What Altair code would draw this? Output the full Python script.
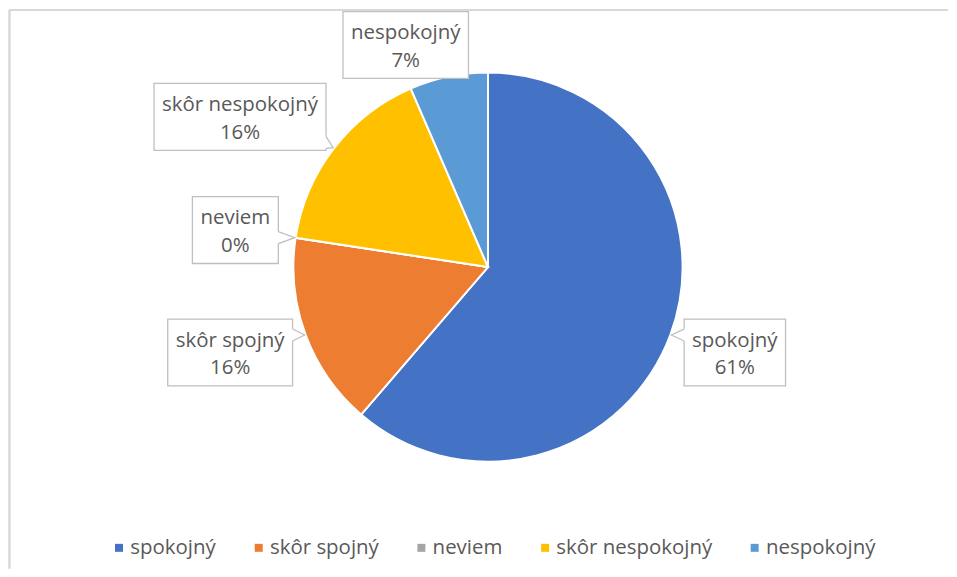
import math
import altair as alt
import pandas as pd

# ---------------- data ----------------
categories = ["spokojný", "skôr spojný", "neviem", "skôr nespokojný", "nespokojný"]
share = [61.3, 16.1, 0.0, 16.1, 6.5]
colors = ["#4472C4", "#ED7D31", "#A5A5A5", "#FFC000", "#5B9BD5"]

# ---------------- layout / style ----------------
W, H = 941, 561          # plot area (page minus 8px margins)
CX, CY = 480, 259        # pie centre inside the plot, pixels from top-left
R = 195                  # pie radius
GAP = 18                 # gap between pie and label box anchor
CLEAR_FREE = R + 5       # boxes are pushed sideways until this clear of the centre
CLEAR_CLAMPED = R - 5    # ... looser for boxes squeezed against the top edge
PAD_X = 8                # horizontal text padding inside box
BOX_H = 67
TAIL_BASE = 12
FONT = "Open Sans"
FS = 20.5
TXT = "#595959"
BORDER = "#BFBFBF"
TOP_LIMIT = CY - 3       # keep boxes inside chart area

# approximate advance widths (em) for the label font
GLYPH = {" ": .26, "n": .614, "e": .561, "s": .477, "p": .613, "o": .604,
         "ô": .604, "k": .525, "j": .24, "y": .501, "ý": .501, "r": .408,
         "v": .501, "i": .253, "m": .93, "%": .855}


def text_w(s):
    return sum(GLYPH.get(c, .572) for c in s) * FS


def nearest_dist(L, Rr, B, T):
    nx = min(max(0, L), Rr)
    ny = min(max(0, B), T)
    return math.hypot(nx, ny)


# coordinate frame: pie centre = (0, 0), 1 unit = 1 px, y up
xs = alt.Scale(domain=[-CX, W - CX], zero=False, nice=False)
ys = alt.Scale(domain=[-(H - CY), CY], zero=False, nice=False)

total = sum(share)
boxes, tails_v, tails_h, lines = [], [], [], []
cum = 0.0
for i, (cat, v) in enumerate(zip(categories, share)):
    mid = 2 * math.pi * (cum + v / 2) / total
    cum += v
    dx, dy = math.sin(mid), math.cos(mid)
    pct = f"{math.floor(100 * v / total + 0.5)}%"
    label = f"{cat}\n{pct}"
    hw = (max(text_w(cat), text_w(pct)) + 2 * PAD_X) / 2
    hh = BOX_H / 2
    cx = (R + GAP) * dx + hw * dx
    cy = (R + GAP) * dy + hh * dy
    clear = CLEAR_FREE
    if cy + hh > TOP_LIMIT:
        cy = TOP_LIMIT - hh
        clear = CLEAR_CLAMPED
    step = 1 if dx >= 0 else -1
    while nearest_dist(cx - hw, cx + hw, cy - hh, cy + hh) < clear:
        cx += step * 0.5
    L, Rr, B, T = cx - hw, cx + hw, cy - hh, cy + hh
    boxes.append({"id": i, "x": L, "x2": Rr, "y": B, "y2": T,
                  "cx": cx, "cy": cy, "label": label})

    tx, ty = (R + 1) * dx, (R + 1) * dy
    half = TAIL_BASE / 2
    if tx > Rr + 3 or tx < L - 3:
        s = 1 if tx > Rr else -1
        ex = Rr if s > 0 else L
        prot = abs(tx - ex)
        yc = min(max(ty, B + half + 2), T - half - 2)
        b1, b2 = yc - half, yc + half
        k = (prot + 2) / prot
        tails_v.append({"id": i, "x": ex - s * 2, "y": ty + (b1 - ty) * k, "y2": ty + (b2 - ty) * k})
        tails_v.append({"id": i, "x": tx, "y": ty, "y2": ty})
        lines += [{"id": i, "o": 0, "x": ex, "y": b1},
                  {"id": i, "o": 1, "x": tx, "y": ty},
                  {"id": i, "o": 2, "x": ex, "y": b2}]
    elif ty < B - 3 or ty > T + 3:
        s = 1 if ty > T else -1
        ey = T if s > 0 else B
        prot = abs(ty - ey)
        xc = min(max(tx, L + half + 2), Rr - half - 2)
        a1, a2 = xc - half, xc + half
        k = (prot + 2) / prot
        tails_h.append({"id": i, "y": ey - s * 2, "x": tx + (a1 - tx) * k, "x2": tx + (a2 - tx) * k})
        tails_h.append({"id": i, "y": ty, "x": tx, "x2": tx})
        lines += [{"id": i, "o": 0, "x": a1, "y": ey},
                  {"id": i, "o": 1, "x": tx, "y": ty},
                  {"id": i, "o": 2, "x": a2, "y": ey}]

pie_df = pd.DataFrame({"category": categories, "value": share,
                       "idx": list(range(len(categories))), "px": 0, "py": 0})
box_df = pd.DataFrame(boxes)

pie = alt.Chart(pie_df).mark_arc(outerRadius=R, stroke="white", strokeWidth=2).encode(
    x=alt.X("px:Q", scale=xs, axis=None),
    y=alt.Y("py:Q", scale=ys, axis=None),
    theta=alt.Theta("value:Q", stack=True),
    order=alt.Order("idx:Q", sort="ascending"),
    color=alt.Color("category:N",
                    scale=alt.Scale(domain=categories, range=colors),
                    legend=alt.Legend(orient="none", legendX=100, legendY=530,
                                      direction="horizontal", title=None,
                                      symbolType="square", symbolSize=64,
                                      symbolStrokeWidth=0, labelFont=FONT,
                                      labelFontSize=FS, labelColor=TXT,
                                      labelOffset=1, columnPadding=32,
                                      padding=0)),
)

rects = alt.Chart(box_df).mark_rect(fill="white", stroke=BORDER, strokeWidth=1.3).encode(
    x=alt.X("x:Q", scale=xs, axis=None), x2="x2:Q",
    y=alt.Y("y:Q", scale=ys, axis=None), y2="y2:Q",
)

layers = [pie, rects]

if tails_v:
    layers.append(alt.Chart(pd.DataFrame(tails_v)).mark_area(fill="white", orient="vertical").encode(
        x=alt.X("x:Q", scale=xs, axis=None),
        y=alt.Y("y:Q", scale=ys, axis=None, stack=None), y2="y2:Q",
        detail="id:N"))
if tails_h:
    layers.append(alt.Chart(pd.DataFrame(tails_h)).mark_area(fill="white", orient="horizontal").encode(
        y=alt.Y("y:Q", scale=ys, axis=None),
        x=alt.X("x:Q", scale=xs, axis=None, stack=None), x2="x2:Q",
        detail="id:N"))
if lines:
    layers.append(alt.Chart(pd.DataFrame(lines)).mark_line(color=BORDER, strokeWidth=1.3).encode(
        x=alt.X("x:Q", scale=xs, axis=None),
        y=alt.Y("y:Q", scale=ys, axis=None),
        detail="id:N", order="o:Q"))

texts = alt.Chart(box_df).mark_text(font=FONT, fontSize=FS, color=TXT, lineBreak="\n",
                                    lineHeight=28, align="center", baseline="middle", dy=-12).encode(
    x=alt.X("cx:Q", scale=xs, axis=None),
    y=alt.Y("cy:Q", scale=ys, axis=None),
    text="label:N",
)
layers.append(texts)

frame_left = alt.Chart(pie_df).mark_rule(color="#D9D9D9", strokeWidth=1.5).encode(
    x=alt.value(0.5), y=alt.value(1.5), y2=alt.value(H))
frame_top = alt.Chart(pie_df).mark_rule(color="#D9D9D9", strokeWidth=1.5).encode(
    x=alt.value(0.5), x2=alt.value(W), y=alt.value(1.5))
layers += [frame_left, frame_top]

chart = alt.layer(*layers).properties(
    width=W, height=H, padding=0, background="white"
).configure_view(strokeWidth=0)

chart.save("out.html", embed_options={"renderer": "svg", "actions": False})
